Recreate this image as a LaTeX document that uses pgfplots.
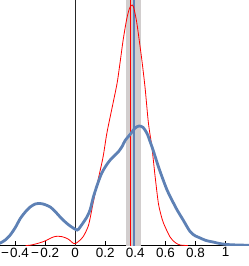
\documentclass[border=0pt]{standalone}
\usepackage{fontspec}
\setmainfont{Liberation Sans}
\usepackage{pgfplots}
\pgfplotsset{compat=1.18}
\definecolor{mblue}{RGB}{94,129,181}
\definecolor{band}{RGB}{210,206,206}
\begin{document}
\begin{tikzpicture}
\begin{axis}[
  scale only axis,
  width=249bp, height=245.5bp,
  xmin=-0.5, xmax=1.156,
  ymin=0, ymax=245.5,
  axis x line=bottom,
  axis y line=none,
  axis line style={-, line width=0.8bp, black},
  tick align=inside,
  major tick length=4.5bp,
  xtick={-0.4,-0.2,0,0.2,0.4,0.6,0.8,1},
  xticklabels={−\kern1.2bp0.4,−\kern1.2bp0.2,0,0.2,0.4,0.6,0.8,1},
  x tick style={line width=0.8bp, black},
  ytick=\empty,
  xticklabel style={font=\fontsize{13.5}{15}\selectfont, inner sep=2bp},
  clip=true,
]
% band
\addplot[draw=none, fill=band] coordinates {(0.336,245.5) (0.439,245.5)} \closedcycle;
% y axis line at x=0
\addplot[black!85, line width=1.1bp] coordinates {(0,0) (0,245.5)};
% vertical lines
\addplot[red, line width=1bp] coordinates {(0.370,0) (0.370,245.5)};
\addplot[mblue, line width=2.8bp] coordinates {(0.391,0) (0.391,245.5)};
% red density
\addplot[red, line width=0.8bp, smooth] coordinates {
(-0.33,0) (-0.299,0.3) (-0.256,1.8) (-0.213,3.8) (-0.18,6) (-0.146,8.5)
(-0.115,9.3) (-0.086,8.8) (-0.047,6.5) (-0.007,1.8) (0.020,3.8) (0.053,8.8)
(0.086,19) (0.103,30) (0.120,43) (0.153,66) (0.186,89) (0.211,112.5)
(0.252,142.5) (0.279,162.5) (0.299,183.5) (0.319,205.5) (0.339,223.5)
(0.352,232.5) (0.365,238.5) (0.379,240.5) (0.387,239) (0.399,231.5)
(0.412,220.5) (0.432,198.5) (0.445,183.5) (0.465,157.5) (0.487,122.5)
(0.510,98.5) (0.532,68.5) (0.553,42.5) (0.570,31) (0.587,22.5) (0.631,8.5)
(0.665,3) (0.698,0.5) (0.75,0)
};
% blue density
\addplot[mblue, line width=2.8bp, smooth] coordinates {
(-0.52,1.2) (-0.498,2.5) (-0.465,5.5) (-0.432,10.5) (-0.398,18) (-0.365,27)
(-0.332,33.5) (-0.299,38.5) (-0.266,41.5) (-0.246,42) (-0.213,41.5)
(-0.166,38.5) (-0.133,34) (-0.100,28.5) (-0.066,23.5) (-0.033,19.5)
(0.013,15.5) (0.033,18.5) (0.078,28.5) (0.100,36) (0.120,48) (0.150,62)
(0.177,72.5) (0.206,80) (0.233,85.5) (0.259,89.5) (0.286,93.5) (0.312,99)
(0.332,105) (0.365,111) (0.399,117.5) (0.425,119.5) (0.452,118) (0.478,112)
(0.498,104) (0.518,95.5) (0.551,80) (0.578,68.5) (0.611,55.5) (0.645,45)
(0.678,35.5) (0.718,25.5) (0.764,14) (0.800,9.5) (0.831,7.5) (0.870,5)
(0.917,3.5) (0.960,2) (1.010,1) (1.08,0.5) (1.17,0.2)
};
\end{axis}
\pgfresetboundingbox
\path (0,-20.5bp) rectangle (249bp,245.5bp);
\end{tikzpicture}
\end{document}
